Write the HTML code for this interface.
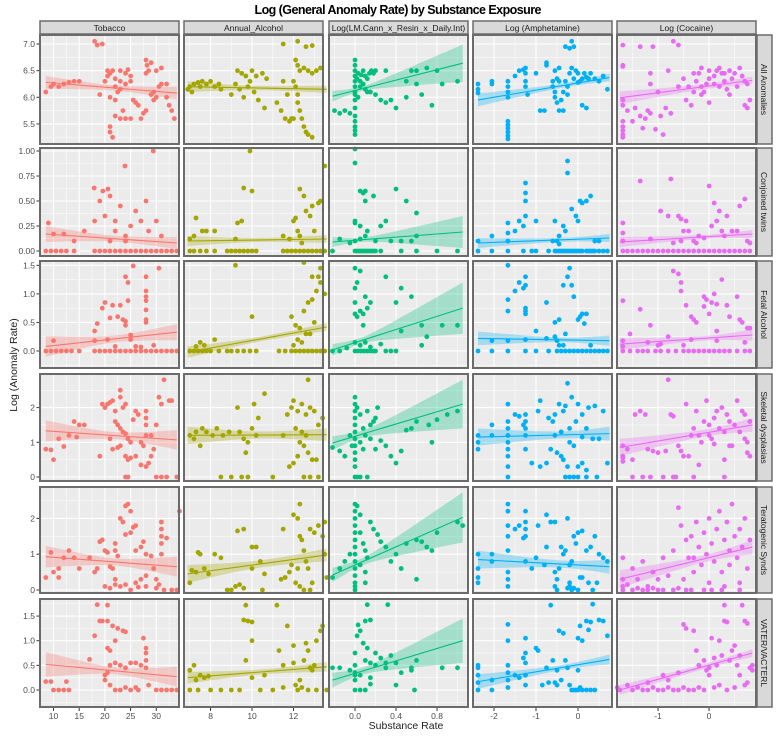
<!DOCTYPE html>
<html><head><meta charset="utf-8">
<style>
html,body{margin:0;padding:0;background:#fff;}
svg{display:block;font-family:"Liberation Sans",Arial,sans-serif;}
</style></head>
<body>
<svg id="chart" width="780" height="737" viewBox="0 0 780 737" xmlns="http://www.w3.org/2000/svg">
<text x="398" y="14" text-anchor="middle" font-size="12.5" font-weight="bold" fill="#000" textLength="287">Log (General Anomaly Rate) by Substance Exposure</text>
<text x="406" y="729" text-anchor="middle" font-size="10.5" fill="#222">Substance Rate</text>
<text transform="translate(17,365) rotate(-90)" text-anchor="middle" font-size="10.5" fill="#222">Log (Anomaly Rate)</text>
</svg>
<script>
// ---------- data ----------
const colNames = ["Tobacco","Annual_Alcohol","Log(LM.Cann_x_Resin_x_Daily.Int)","Log (Amphetamine)","Log (Cocaine)"];
const rowNames = ["All Anomalies","Conjoined twins","Fetal Alcohol","Skeletal dysplasias","Teratogenic Synds","VATER/VACTERL"];
const seriesColors = ["#F8766D","#A3A500","#00BF7D","#00B0F6","#E76BF3"];
const xTicks = [[10,15,20,25,30],[8,10,12],[0,0.4,0.8],[-2,-1,0],[-1,0]];
const xTickLabels = [["10","15","20","25","30"],["8","10","12"],["0.0","0.4","0.8"],["-2","-1","0"],["-1","0"]];
const yTicks = [[5.5,6,6.5,7],[0,0.25,0.5,0.75,1],[0,0.5,1,1.5],[0,1,2],[0,1,2],[0,0.5,1,1.5]];
const yTickLabels = [["5.5","6.0","6.5","7.0"],["0.00","0.25","0.50","0.75","1.00"],["0.0","0.5","1.0","1.5"],["0","1","2"],["0","1","2"],["0.0","0.5","1.0","1.5"]];
const xDomains = [[7.37,34.42],[6.72,13.42],[-0.254,1.102],[-2.5,0.81],[-1.804,0.92]];
const yDomains = [[5.124,7.169],[-0.05,1.03],[-0.298,1.576],[-0.115,2.968],[-0.084,2.877],[-0.345,1.846]];
const lineXRange = [[8.5,34],[6.9,13.6],[-0.22,1.05],[-2.38,0.75],[-1.75,0.85]];
const fitStart = [[6.28,6.2,6.02,5.95,5.99],[0.17,0.1,0.09,0.08,0.09],[0.08,-0.02,0.02,0.22,0.12],[1.33,1.2,0.98,1.15,0.85],[0.93,0.45,0.42,0.85,0.3],[0.52,0.25,0.2,0.17,0]];
const fitEnd = [[6.08,6.15,6.64,6.37,6.32],[0.08,0.12,0.19,0.13,0.17],[0.33,0.42,0.75,0.18,0.28],[1.07,1.22,2.1,1.25,1.5],[0.65,0.98,2.03,0.65,1.2],[0.27,0.47,1.0,0.62,0.75]];
const bandLeft = [[0.12,0.1,0.1,0.12,0.12],[0.08,0.05,0.05,0.05,0.05],[0.18,0.1,0.1,0.12,0.1],[0.3,0.25,0.2,0.25,0.25],[0.3,0.25,0.2,0.25,0.25],[0.25,0.12,0.15,0.15,0.1]];
const bandMid = [[0.05,0.04,0.04,0.04,0.05],[0.03,0.02,0.02,0.02,0.02],[0.06,0.04,0.05,0.04,0.04],[0.1,0.1,0.1,0.1,0.1],[0.1,0.1,0.1,0.1,0.1],[0.07,0.05,0.07,0.05,0.05]];
const bandRight = [[0.12,0.07,0.35,0.07,0.07],[0.06,0.04,0.16,0.04,0.04],[0.14,0.07,0.45,0.09,0.1],[0.28,0.18,0.7,0.2,0.2],[0.28,0.18,0.7,0.2,0.2],[0.2,0.1,0.45,0.1,0.08]];
const bandCenter = [22,10.5,0.05,-0.3,0];

const p_r1_c1 = [[8.5,6.1],[9.5,6.2],[10,6.25],[11,6.2],[12,6.25],[13,6.28],[14,6.3],[15,6.3],[18,7.05],[18.5,6.98],[19.5,7.0],[19,6.05],[20,6.3],[20.5,6.4],[21,6.45],[21.5,6.5],[22,6.35],[22,6.2],[22.5,6.1],[23,6.3],[23,6.5],[24,6.45],[24,6.25],[24.5,6.52],[25,6.4],[25,6.3],[21,6.0],[22,5.95],[21,5.45],[21,5.35],[21.5,5.25],[22,5.65],[23,5.6],[23.5,5.75],[24,5.6],[25,5.6],[26,5.9],[26.5,5.85],[27,5.6],[27.5,5.7],[28,5.75],[25.5,5.95],[28,6.7],[28.2,6.6],[28.5,6.5],[28,6.45],[29,6.65],[30,6.5],[29,6.05],[29.5,5.95],[29.5,6.1],[30,6.0],[30.5,6.2],[31,6.55],[31,6.25],[32,6.0],[32.5,5.85],[33,5.75],[33.5,5.6],[32,6.25],[20.5,6.5],[23,6.15]];
const p_r2_c1 = [[8.5,0],[9.5,0],[10.5,0],[11.5,0],[12.5,0],[14,0],[18,0],[19,0],[20,0],[21,0],[22,0],[23,0],[24,0],[25,0],[26,0],[27,0],[28,0],[29,0],[30,0],[31,0],[32,0],[33,0],[34,0],[10,0.17],[12,0.17],[14,0.1],[16,0.2],[18,0.3],[19,0.5],[20,0.35],[21,0.55],[22,0.3],[22,0.2],[23,0.45],[24,0.15],[25,0.25],[26,0.4],[27,0.3],[28,0.5],[28.5,0.2],[30,0.3],[31,0.15],[21,0.1],[24,0.1],[29.4,1.0],[23.9,0.85],[17.9,0.63],[19.6,0.6],[20.6,0.62],[9,0.28]];
const p_r3_c1 = [[8.5,0],[9.5,0],[10.5,0],[11.5,0],[12.5,0],[13.5,0],[15,0],[18,0],[19,0],[20,0],[21,0],[22,0],[23,0],[24,0],[25,0],[26,0],[27,0],[28,0],[29,0],[30,0],[31,0],[32,0],[33,0],[34,0],[10,0.18],[18,0.35],[18.5,0.48],[19.5,0.75],[20,0.85],[21,0.58],[21.5,0.8],[22.5,0.6],[23,0.8],[23.5,0.55],[24,0.52],[24.5,0.88],[24,0.45],[24.5,1.2],[24,1.3],[25.5,1.49],[25,0.28],[25,0.2],[28,1.3],[28,1.05],[28,0.95],[28,0.88],[28,0.72],[28,0.55],[28,0.5],[30.5,1.45],[20.5,0.2],[22,0.08],[26,0.08],[27,0.07],[29.5,0.1],[18,0.18]];
const p_r4_c1 = [[8.5,0.8],[9.5,0.78],[10,0.5],[11,1.1],[12,0.88],[13,1.2],[14,1.6],[15,1.5],[16,1.5],[14.5,1.15],[19,0.6],[19.5,2.1],[20,2.0],[20.5,2.1],[21,2.15],[21.5,2.2],[22,1.9],[23,2.5],[23,2.3],[23.5,2.0],[24,2.1],[22,1.6],[22.5,1.5],[23,1.4],[23.5,1.3],[24,1.25],[24.5,1.1],[25,1.0],[21,1.1],[21.5,0.8],[22.5,0.85],[23,0.9],[24,0.6],[24.5,0.5],[25,0.55],[26,0.6],[26,1.9],[26.5,1.8],[25.5,1.65],[27,1.0],[27.5,0.9],[28,0.3],[28.5,0.4],[29,0.6],[29.5,0.8],[24,0],[24.5,0],[28,1.9],[28,1.7],[28,1.5],[28,1.2],[30.5,2.3],[30,1.5],[31.5,2.8],[31,2.1],[32.5,2.2],[33,2.2],[30,0],[31,0],[32,0],[34,0],[27,0.35],[29,1.2]];
const p_r5_c1 = [[8.5,0.35],[9.5,1.05],[10,0.5],[11,0.6],[11,0.35],[12,0.9],[13,1.1],[14,0.9],[15,0.6],[17,0.9],[18,0.5],[18.5,0.6],[19,1.35],[19.5,1.4],[20,1.1],[20.5,1.05],[21,0.65],[21.5,0.6],[22,1.3],[22,1.1],[22.5,0.95],[23,2.0],[23.5,1.9],[24,2.35],[24.5,2.4],[25,2.2],[25.5,1.75],[26,1.8],[24,1.55],[25,1.6],[26,1.1],[27,1.2],[27.5,1.35],[28,1.0],[29,0.95],[29.5,0.6],[30,0.3],[28,0.4],[26,0.2],[24,0.15],[23,0.1],[22,0.15],[21,0.05],[20,0.1],[25,0],[26.5,0.08],[28,0.1],[30.5,0.15],[31,1.9],[31,1.7],[31,1.5],[31,1.3],[31,1.0],[32,1.45],[30,0.05],[31.5,0],[33,0],[34,0],[34.5,2.2],[27,0.3],[22,0.3]];
const p_r6_c1 = [[8.5,0.17],[9.5,0.17],[10,0],[11,0],[12,0],[12.5,0.17],[13,0],[17,0.62],[18,1.1],[18.5,1.73],[19,1.4],[19.5,1.4],[20.5,1.72],[20.5,1.4],[21.5,1.3],[22.5,1.25],[23.5,1.2],[24,1.18],[22,1.0],[21,0.8],[20.5,0.85],[21,0.5],[22,0.55],[23,0.5],[24,0.45],[25,0.55],[26,0.55],[27,0.5],[28,0.45],[28,0.6],[28,0.75],[28,0.85],[27.5,1.05],[20,0.3],[20,0.2],[21,0.1],[22,0],[23,0],[24,0.05],[25,0],[26,0.05],[26.5,0],[28.5,0.1],[30,0],[31,0],[32,0],[33,0],[34,0],[20.5,0.35]];

const p_r1_c2 = [[6.9,6.15],[7.0,6.2],[7.2,6.25],[7.4,6.28],[7.6,6.3],[7.8,6.25],[8.0,6.3],[8.2,6.2],[8.4,6.25],[7.1,6.1],[7.5,6.2],[8.5,6.15],[9.0,6.05],[9.3,6.5],[9.5,6.45],[9.7,6.4],[10,6.5],[10.2,6.4],[10.5,6.45],[9.8,6.2],[10.1,6.1],[9.6,6.0],[10.3,5.95],[9.2,6.25],[9.4,6.15],[10.6,5.8],[11.2,5.9],[11.4,5.75],[11.6,5.6],[11.8,5.55],[12,5.6],[11.5,6.3],[11.7,6.05],[12.1,6.7],[12.2,6.6],[12.3,6.5],[12.5,6.55],[12.7,6.5],[12.9,6.45],[13.1,6.5],[13.3,6.55],[12.0,6.3],[12.1,6.2],[12.2,6.05],[12.2,5.9],[12.3,5.75],[12.4,5.6],[12.5,5.45],[12.6,5.35],[12.7,5.3],[12.9,5.25],[11.5,7.0],[12.2,7.05],[12.6,6.95],[12.9,6.97],[10.7,6.35],[9.9,6.3],[11.9,5.6]];
const p_r2_c2 = [[7.0,0],[7.2,0],[7.5,0],[7.8,0],[8.2,0],[8.8,0],[9.0,0],[9.2,0],[9.4,0],[9.6,0],[9.8,0],[10,0],[10.2,0],[11.5,0],[11.7,0],[11.9,0],[12.1,0],[12.3,0],[12.5,0],[12.7,0],[12.9,0],[13.1,0],[13.3,0],[13.5,0],[7.0,0.12],[7.2,0.15],[7.3,0.33],[7.6,0.2],[7.8,0.2],[8.2,0.2],[9.3,0.28],[9.5,0.3],[9.2,0.12],[9.9,1.0],[9.6,0.63],[10,0.6],[11.8,0.12],[12,0.3],[12.1,0.33],[12.2,0.2],[12.3,0.15],[12.5,0.55],[12.6,0.4],[12.8,0.35],[12.9,0.45],[13,0.2],[13.2,0.48],[13.3,0.5],[13.5,0.85],[12.3,0.62],[11.5,0.15],[12.4,0.08]];
const p_r3_c2 = [[7.0,0],[7.2,0],[7.4,0],[7.6,0],[7.8,0],[8.0,0],[8.4,0],[8.8,0],[9.0,0],[9.3,0],[9.6,0],[9.9,0],[10.2,0],[11.3,0],[11.6,0],[11.9,0],[12.1,0],[12.3,0],[12.5,0],[12.7,0],[12.9,0],[13.1,0],[13.3,0],[13.5,0],[7.3,0.08],[7.5,0.15],[7.7,0.1],[8.2,0.2],[9.2,1.5],[10,0.6],[11.9,0.6],[12.1,0.45],[12.3,0.4],[12.5,0.7],[12.7,0.85],[12.9,0.9],[13.1,1.05],[13.3,1.2],[13.5,1.0],[12.9,1.3],[13.2,1.3],[13.3,1.45],[12.5,1.55],[12.6,0.3],[12.2,0.2],[12.4,0.15],[12.0,0.1],[13.0,0.5],[12.8,0.3]];
const p_r4_c2 = [[7.0,1.2],[7.2,1.1],[7.3,1.3],[7.5,0.9],[7.6,1.4],[7.8,1.3],[8.1,1.2],[8.3,1.4],[8.6,1.2],[8.9,1.3],[9.3,2.0],[9.6,1.1],[9.8,1.0],[10.1,2.1],[10.3,1.7],[10.6,2.4],[10.2,1.2],[10.0,1.4],[9.4,1.3],[9.7,0.7],[11.5,1.2],[11.7,1.8],[11.9,2.0],[12.0,2.2],[12.2,1.9],[12.4,2.1],[12.6,1.8],[12.8,2.0],[13.0,1.9],[13.2,1.5],[13.4,1.7],[12.1,1.4],[12.3,1.0],[12.5,0.9],[12.7,0.7],[12.9,0.5],[12.2,0.6],[12.0,0.4],[11.8,0.3],[12.4,1.3],[12.6,1.2],[13.1,0.5],[12.7,2.8],[8.5,0],[9.0,0],[9.5,0],[9.8,0],[11.0,0],[12.5,0],[12.8,0],[13.2,0]];
const p_r5_c2 = [[7.0,0.2],[7.1,0.55],[7.3,0.5],[7.4,1.05],[7.5,1.0],[7.7,0.6],[7.9,0.45],[8.2,1.0],[8.5,0.9],[9.0,0],[9.2,0.1],[9.4,0.15],[9.6,0.05],[9.3,1.65],[9.6,1.7],[10,1.2],[10.2,1.2],[10.4,0.8],[10.6,0.45],[10,0.6],[11.4,0.3],[11.6,0.35],[11.8,0.5],[11.9,0.7],[12.0,2.1],[12.2,2.0],[12.3,1.5],[12.4,1.4],[12.5,1.1],[12.6,0.8],[12.8,1.7],[13.0,1.6],[13.2,1.8],[13.4,1.5],[13.5,1.9],[12.3,2.4],[11.5,1.7],[12.7,0.6],[12.9,0.2],[12.1,0.2],[12.3,0.1],[12.5,0],[12.8,0],[10.5,0],[8.8,0],[13.5,1.0],[13.6,0.35],[12.2,0.6]];
const p_r6_c2 = [[7.0,0.4],[7.2,0.5],[7.3,0.2],[7.5,0.3],[7.7,0.25],[7.9,0.28],[7.0,0],[7.4,0],[8.0,0],[8.5,0],[9.0,0],[9.4,0],[9.7,0.6],[9.6,1.42],[9.8,1.4],[10,1.38],[9.7,1.72],[10,1.0],[10,0.25],[10.6,0.3],[10.4,0],[11.2,1.72],[11.3,0.8],[11.5,0.5],[11.7,1.3],[12,0.9],[12,0.55],[12.1,0.1],[12.2,0],[12.3,0.2],[12.5,0.6],[12.6,0.95],[12.7,0.8],[12.8,0.45],[12.9,0.4],[13,0.5],[13.1,1.0],[13.3,1.2],[13.4,1.3],[12.4,0.05],[12.7,0],[13.1,0],[13.6,0],[11.0,0],[11.5,0.05]];

const p_r1_c3 = [[0,5.3],[0,5.38],[0,5.45],[0,5.55],[0,5.65],[0,5.8],[0,5.95],[0,6.05],[0,6.1],[0,6.2],[0,6.3],[0,6.4],[0,6.5],[0,6.6],[0,6.7],[0.02,6.35],[0.03,6.45],[0.05,6.3],[0.06,6.42],[0.08,6.5],[0.1,6.4],[0.12,6.35],[0.14,6.45],[0.16,6.5],[0.18,6.45],[0.2,6.5],[0.05,6.2],[0.08,6.25],[0.1,6.15],[0.12,6.1],[0.15,6.1],[0.2,6.05],[0.03,6.0],[-0.2,5.75],[-0.15,5.7],[-0.05,5.7],[0.25,5.95],[0.3,5.9],[0.35,5.95],[0.4,5.8],[0.5,6.3],[0.55,6.5],[0.6,6.5],[0.7,6.55],[0.8,6.5],[0.65,6.05],[0.6,6.25],[0.3,6.5],[0.5,6.0],[1.0,6.3],[0.85,6.25],[0.75,5.85],[-0.1,5.75]];
const p_r2_c3 = [[0,0],[0.02,0],[0.04,0],[0.06,0],[0.08,0],[0.1,0],[0.12,0],[0.14,0],[0.16,0],[0.18,0],[0.2,0],[-0.22,0],[0.25,0],[0.45,0],[0.6,0],[0.8,0],[1.0,0],[0,1.02],[0,0.88],[0.05,0.6],[0.1,0.6],[0.08,0.58],[0.1,0.5],[0.18,0.55],[0.4,0.62],[0.5,0.5],[0.6,0.38],[0.25,0.25],[0.3,0.3],[0.0,0.3],[0.0,0.28],[0.05,0.25],[0.12,0.2],[0.1,0.15],[0.05,0.12],[0.0,0.1],[-0.15,0.12],[-0.05,0.08],[0.35,0.1],[0.2,0.1],[0.45,0.1],[0.55,0.1],[0.6,0.15]];
const p_r3_c3 = [[0,0],[0.03,0],[0.06,0],[0.09,0],[0.12,0],[0.15,0],[0.18,0],[0.2,0],[-0.22,0],[-0.15,0],[0.3,0],[0.35,0],[0.4,0],[0.0,1.45],[0.05,1.4],[0.02,1.2],[0.0,1.1],[0.05,0.7],[0.0,0.85],[0.0,0.65],[0.02,0.6],[0.08,0.65],[0.1,0.95],[0.15,0.85],[0.12,0.75],[0.08,0.45],[0.0,0.15],[0.1,0.15],[0.05,0.1],[0.3,1.3],[0.45,1.1],[0.4,0.85],[0.55,0.95],[0.45,0.35],[0.65,0.45],[0.7,0.25],[0.65,0.1],[0.15,0.07],[-0.08,0.05],[1.0,0.45],[0.85,0.45],[0.25,0.12]];
const p_r4_c3 = [[0,0],[0.02,0],[0.05,0],[0.12,0],[0,0.3],[0,0.5],[0,0.7],[0,0.9],[0,1.1],[0,1.3],[0,1.5],[0,1.7],[0,1.9],[0,2.1],[0,2.3],[0.02,2.0],[0.05,1.8],[0.08,1.4],[0.1,1.2],[0.05,1.0],[0.08,0.8],[-0.05,1.2],[-0.03,0.9],[-0.1,0.6],[0.15,1.5],[0.18,1.6],[0.2,1.7],[0.22,2.0],[0.12,1.9],[0.15,1.1],[0.25,1.05],[0.3,0.9],[0.2,0.8],[0.35,0.6],[0.4,0.4],[0.45,0.75],[0.5,1.35],[0.55,1.4],[0.6,1.6],[0.72,1.5],[0.75,1.0],[0.8,1.65],[1.0,1.9],[0.9,1.8],[-0.22,0.85],[-0.15,0.75]];
const p_r5_c3 = [[0,0],[0,0.1],[0,0.2],[0,0.4],[0,0.6],[0,0.8],[0,1.0],[0,1.2],[0,1.4],[0,1.6],[0,1.8],[0,2.0],[0,2.2],[0,2.4],[0.02,2.35],[0.05,2.1],[0.05,1.6],[0.08,1.3],[0.1,1.1],[0.12,0.9],[0.05,0.7],[0.1,0.5],[-0.05,1.0],[-0.1,0.8],[-0.22,0.35],[-0.15,0.6],[0.15,1.9],[0.18,1.7],[0.22,1.55],[0.25,1.35],[0.3,1.2],[0.35,0.8],[0.4,1.0],[0.45,0.6],[0.5,1.3],[0.6,1.4],[0.65,1.35],[0.7,1.2],[0.8,1.6],[0.6,0.3],[1.0,1.9],[1.05,1.8],[0.75,1.1],[0.1,0.2]];
const p_r6_c3 = [[-0.22,0.45],[-0.15,0.45],[-0.05,0.4],[0,0.5],[0,0.35],[0,0.3],[0,0.2],[0,0],[0.05,0],[0.1,0],[0.15,0.12],[0.0,0.75],[0.02,1.1],[0.05,1.2],[0.03,1.32],[0.1,1.4],[0.15,1.42],[0.12,1.73],[0.32,1.73],[0.08,0.95],[0.12,0.85],[0.2,0.75],[0.1,0.6],[0.15,0.55],[0.2,0.5],[0.25,0.65],[0.3,0.55],[0.35,0.7],[0.4,0.55],[0.3,0.45],[0.45,0.35],[0.55,0.45],[0.6,0.6],[0.4,0.1],[0.55,0.4],[0.58,0],[1.0,0.45],[0.85,0.45],[0.05,0.3],[0.15,0.25]];

const p_r1_c4 = [[-2.38,6.25],[-2.38,6.15],[-2.38,6.08],[-2.05,6.3],[-2.05,6.25],[-1.67,6.3],[-1.67,6.2],[-1.67,6.1],[-1.67,6.0],[-1.67,5.55],[-1.67,5.48],[-1.67,5.42],[-1.67,5.35],[-1.67,5.28],[-1.67,5.22],[-1.5,6.4],[-1.4,6.5],[-1.3,6.52],[-1.25,6.55],[-1.25,6.45],[-1.25,6.3],[-1.25,6.2],[-1.2,6.05],[-1.0,6.45],[-0.9,5.75],[-0.8,5.75],[-0.75,6.6],[-0.75,6.65],[-0.6,6.2],[-0.55,6.1],[-0.55,6.0],[-0.5,5.9],[-0.45,5.75],[-0.4,5.95],[-0.35,5.75],[-0.3,6.3],[-0.25,6.2],[-0.2,6.45],[-0.15,6.55],[-0.1,6.35],[-0.3,6.95],[-0.2,6.92],[-0.15,7.05],[-0.1,6.95],[-0.05,6.5],[0,6.45],[0.05,6.3],[0.1,6.35],[0.15,6.45],[0.2,6.38],[0.25,6.35],[0.3,6.45],[0.4,6.35],[0.5,6.3],[0.6,6.4],[0.7,6.15],[-0.5,6.35],[-0.45,6.3],[-0.6,6.3],[-0.35,6.1],[-0.25,6.05],[0.1,5.85],[0.2,5.8],[-0.55,6.5],[-0.45,6.55],[0.0,6.28]];
const p_r2_c4 = [[-2.38,0],[-2.05,0],[-1.67,0],[-1.3,0],[-1.1,0],[-1.0,0],[-0.7,0],[-0.55,0],[-0.5,0],[-0.45,0],[-0.4,0],[-0.35,0],[-0.3,0],[-0.25,0],[-0.2,0],[-0.15,0],[-0.1,0],[-0.05,0],[0,0],[0.05,0],[0.1,0],[0.2,0],[0.25,0],[0.3,0],[0.35,0],[0.4,0],[0.5,0],[0.6,0],[0.7,0],[-2.38,0.1],[-2.05,0.15],[-1.67,0.1],[-1.67,0.18],[-1.67,0.28],[-1.5,0.2],[-1.4,0.3],[-1.3,0.25],[-1.25,0.35],[-1.25,0.5],[-1.25,0.58],[-1.25,0.68],[-1.0,0.3],[-0.6,0.1],[-0.55,0.3],[-0.45,0.15],[-0.35,0.25],[-0.3,0.2],[-0.25,0.9],[-0.25,0.78],[-0.15,0.42],[-0.05,0.35],[0.0,0.3],[0.05,0.5],[0.1,0.48],[0.2,0.5],[0.3,0.55],[-0.5,0.1],[0.4,0.1],[0.5,0.1],[-0.45,0.07]];
const p_r3_c4 = [[-2.38,0],[-2.05,0],[-1.67,0],[-1.25,0],[-1.0,0],[-0.7,0],[-0.5,0],[-0.4,0],[-0.3,0],[-0.2,0],[-0.1,0],[0,0],[0.1,0],[0.2,0],[0.3,0],[0.4,0],[0.5,0],[0.6,0],[0.7,0],[-1.67,1.5],[-1.5,1.05],[-1.3,1.1],[-1.4,1.2],[-1.25,1.15],[-1.25,1.3],[-1.67,0.7],[-1.67,0.9],[-1.25,0.65],[-1.25,0.7],[-1.25,0.75],[-1.0,0.35],[-0.75,0.85],[-0.55,0.5],[-0.45,0.55],[-0.35,1.15],[-0.25,1.3],[-0.2,1.45],[-0.15,1.15],[-0.1,0.95],[0.0,0.55],[0.05,0.6],[0.1,0.65],[0.2,0.65],[0.15,0.48],[-0.3,0.3],[-0.5,0.18],[-0.45,0.1],[0.3,0.1],[-2.05,0.18],[-1.67,0.18],[-1.25,0.2],[-0.75,0.22],[-0.55,0.25],[-0.35,0.1]];
const p_r4_c4 = [[-2.38,1.2],[-2.38,0.8],[-2.38,1.0],[-2.05,1.5],[-2.05,1.2],[-1.67,2.1],[-1.67,1.6],[-1.67,1.4],[-1.67,1.2],[-1.67,1.0],[-1.67,0.8],[-1.67,0.6],[-1.67,0.3],[-1.67,0],[-1.5,1.8],[-1.4,1.75],[-1.3,1.5],[-1.25,1.8],[-1.25,1.6],[-1.25,1.4],[-1.25,1.2],[-1.25,0.8],[-1.1,0.4],[-0.95,1.9],[-0.9,2.2],[-0.9,0.3],[-0.75,0.4],[-0.7,1.7],[-0.65,0.8],[-0.6,1.6],[-0.55,1.8],[-0.5,0.7],[-0.45,2.1],[-0.4,1.3],[-0.4,0.6],[-0.35,1.9],[-0.3,2.05],[-0.25,2.7],[-0.2,1.4],[-0.15,2.3],[-0.1,0.9],[-0.05,1.6],[0,2.1],[0.1,1.8],[0.2,1.4],[0.25,2.0],[0.35,1.1],[0.4,2.05],[0.5,1.1],[0.6,1.9],[0.7,0.4],[-0.35,0.5],[-0.25,0.3],[0,0.3],[0.1,0.4],[0.2,0.2],[-0.3,0],[-0.2,0],[-0.1,0],[0.0,0],[0.2,0],[0.45,0],[-0.55,1.2],[-0.2,1.0],[0.1,1.15]];
const p_r5_c4 = [[-2.38,0.2],[-2.38,0.35],[-2.38,0.6],[-2.38,1.0],[-2.05,0.8],[-2.05,1.0],[-1.67,2.4],[-1.67,2.2],[-1.67,1.8],[-1.67,1.5],[-1.67,1.1],[-1.67,0.5],[-1.67,0.3],[-1.67,0.1],[-1.5,1.7],[-1.4,1.8],[-1.3,1.45],[-1.25,2.2],[-1.25,1.9],[-1.25,1.7],[-1.25,1.5],[-1.25,0.8],[-1.1,0.6],[-1.0,0.9],[-0.95,1.8],[-0.8,0.7],[-0.75,1.2],[-0.75,2.1],[-0.65,1.9],[-0.55,1.9],[-0.55,0.5],[-0.5,0.3],[-0.45,0.6],[-0.4,1.2],[-0.35,1.0],[-0.3,1.1],[-0.25,2.0],[-0.2,0.2],[-0.2,0.7],[-0.15,0.8],[-0.1,1.5],[-0.05,1.3],[0,1.6],[0.05,0.35],[0.1,1.65],[0.2,1.1],[0.3,1.2],[0.4,1.5],[0.5,1.0],[0.6,0.9],[0.7,0.8],[-0.25,0.05],[-0.2,0.1],[-0.15,0],[-0.1,0.05],[0,0],[0.1,0.35],[0.25,0.2],[0.35,0],[0.45,0.2],[-0.5,0],[-0.55,0.1]];
const p_r6_c4 = [[-2.38,0.5],[-2.38,0.45],[-2.38,0.3],[-2.38,0.15],[-2.38,0],[-2.05,0.2],[-2.05,0],[-1.67,1.33],[-1.67,1.0],[-1.67,0.5],[-1.67,0.35],[-1.67,0.2],[-1.67,0.05],[-1.5,0.3],[-1.4,0.25],[-1.3,0.65],[-1.25,0.55],[-1.25,1.05],[-1.25,0.75],[-1.25,0.3],[-1.25,0.1],[-1.0,0.85],[-0.95,0.8],[-0.85,0.1],[-0.75,0.45],[-0.7,0.15],[-0.65,1.72],[-0.6,0.6],[-0.55,0.15],[-0.5,0.1],[-0.45,1.2],[-0.4,0.2],[-0.35,1.15],[-0.3,0.6],[-0.25,0.45],[-0.2,0.1],[-0.15,0],[-0.1,0],[-0.05,0],[0,0],[0.05,0.05],[0.1,0],[0.2,0],[0.3,0],[0.4,0],[0,1.05],[0.05,1.3],[0.1,1.0],[0.2,1.4],[0.25,1.22],[0.3,1.38],[0.35,1.74],[0.5,1.42],[0.6,1.4],[0.7,1.1],[-0.5,0.4],[0.0,0.4]];

const p_r1_c5 = [[-1.69,6.98],[-1.69,6.6],[-1.69,6.58],[-1.69,5.95],[-1.69,5.85],[-1.69,5.55],[-1.69,5.45],[-1.69,5.38],[-1.69,5.3],[-1.69,5.25],[-1.6,5.75],[-1.5,5.55],[-1.45,5.8],[-1.35,6.95],[-1.35,5.65],[-1.3,5.42],[-1.25,5.6],[-1.2,5.75],[-1.15,6.45],[-1.15,6.25],[-1.15,5.7],[-1.1,6.95],[-1.05,5.4],[-1.0,6.1],[-0.95,5.65],[-0.9,5.3],[-0.85,5.8],[-0.8,6.5],[-0.75,5.7],[-0.7,7.05],[-0.6,6.98],[-0.5,6.35],[-0.45,5.95],[-0.4,6.2],[-0.3,6.1],[-0.25,6.3],[-0.2,6.45],[-0.15,6.55],[-0.15,6.2],[-0.1,6.1],[-0.05,6.25],[0,5.9],[0,6.35],[0.1,6.4],[0.1,6.25],[0.15,6.5],[0.2,6.55],[0.25,6.45],[0.3,6.3],[0.35,6.15],[0.4,6.05],[0.45,6.35],[0.5,6.45],[0.6,6.55],[0.65,6.4],[0.7,6.3],[0.75,6.25],[0.8,5.95],[0.75,5.8],[0.7,5.85],[0.2,6.2],[0.3,6.45],[-0.3,6.45],[-0.35,5.85],[-0.15,6.05],[0.0,6.5],[0.4,6.5],[0.55,6.2],[-0.6,6.2]];
const p_r2_c5 = [[-1.69,0],[-1.6,0],[-1.5,0],[-1.4,0],[-1.3,0],[-1.2,0],[-1.1,0],[-1.0,0],[-0.9,0],[-0.8,0],[-0.7,0],[-0.6,0],[-0.5,0],[-0.4,0],[-0.3,0],[-0.2,0],[-0.1,0],[0,0],[0.1,0],[0.2,0],[0.3,0],[0.4,0],[0.5,0],[0.6,0],[0.7,0],[0.8,0],[-1.69,0.28],[-1.69,0.1],[-1.69,0.18],[-1.35,0.7],[-1.15,0.12],[-0.95,0.4],[-0.8,0.35],[-0.75,0.72],[-0.6,0.35],[-0.55,0.32],[-0.5,0.2],[-0.45,0.3],[-0.4,0.2],[-0.3,0.1],[-0.25,0.08],[-0.2,0.15],[0.0,0.65],[-0.1,0.13],[0.05,0.25],[0.1,0.48],[0.15,0.3],[0.2,0.4],[0.25,0.2],[0.3,0.15],[0.35,0.35],[0.45,0.2],[0.55,0.2],[0.6,0.45],[0.7,0.52],[0.75,0.1],[0.8,0.08],[-0.55,0.1],[-0.7,0.08]];
const p_r3_c5 = [[-1.69,0],[-1.55,0],[-1.4,0],[-1.3,0],[-1.2,0],[-1.05,0],[-0.95,0],[-0.8,0],[-0.65,0],[-0.5,0],[-0.4,0],[-0.3,0],[-0.2,0],[-0.1,0],[0,0],[0.1,0],[0.2,0],[0.3,0],[0.4,0],[0.55,0],[0.7,0],[0.8,0],[-1.69,0.88],[-1.69,0.18],[-1.69,0.08],[-1.55,0.3],[-1.35,0.73],[-1.15,0.45],[-0.95,0.12],[-0.8,0.25],[-0.7,1.4],[-0.6,1.35],[-0.55,1.2],[-0.55,1.05],[-0.45,0.8],[-0.35,0.6],[-0.3,0.55],[-0.25,0.5],[-0.1,0.95],[-0.1,0.78],[-0.05,0.9],[0.0,0.65],[0.05,0.85],[0.1,1.0],[0.15,0.82],[0.25,1.25],[0.35,0.8],[0.4,0.6],[0.55,0.95],[0.6,0.55],[0.65,0.5],[-0.35,0.2],[-0.5,0.1],[0.15,0.18],[0.15,0.35],[0.75,0.4],[0.8,0.4],[0.7,0.15],[-1.2,0.15],[-1.0,0.1]];
const p_r4_c5 = [[-1.69,0.6],[-1.69,0.9],[-1.69,0.55],[-1.69,0.45],[-1.6,0.8],[-1.5,0.5],[-1.5,0],[-1.3,0],[-1.15,0],[-0.9,0],[-0.7,0],[-0.65,0],[-0.3,0],[0.3,0],[-1.45,1.8],[-1.35,1.9],[-1.25,1.8],[-1.2,0.8],[-1.1,0.75],[-1.0,0.7],[-0.85,0.75],[-0.8,2.8],[-0.75,1.8],[-0.7,1.75],[-0.6,0.9],[-0.55,0.75],[-0.5,0.6],[-0.45,2.1],[-0.4,0.6],[-0.35,1.2],[-0.3,1.4],[-0.25,1.9],[-0.2,1.2],[-0.15,1.0],[-0.1,1.6],[-0.05,2.2],[0,1.5],[0.05,1.1],[0.1,1.7],[0.15,1.9],[0.2,1.4],[0.25,2.0],[0.3,1.3],[0.35,1.8],[0.4,1.6],[0.45,0.9],[0.5,1.5],[0.55,2.2],[0.6,1.3],[0.65,1.9],[0.7,1.1],[0.75,0.7],[0.8,1.6],[0.3,0.5],[0.1,0.95],[0.0,1.2],[0.4,0.9],[0.75,1.0],[0.8,0.6],[0.7,1.8],[-0.2,0.35]];
const p_r5_c5 = [[-1.69,0.1],[-1.69,0.3],[-1.69,0.9],[-1.69,0],[-1.5,0],[-1.4,0.05],[-1.3,0],[-1.2,0],[-1.1,0.05],[-1.0,0],[-0.9,0],[-0.7,0],[-0.6,0.05],[-0.45,0],[-0.35,0],[-0.1,0],[0.05,0],[0.25,0],[0.6,0],[-1.6,0.15],[-1.5,0.6],[-1.4,0.3],[-1.3,0.8],[-1.2,0.1],[-1.1,0.5],[-1.0,0.3],[-0.9,0.9],[-0.8,0.4],[-0.7,1.1],[-0.6,2.3],[-0.55,1.8],[-0.5,0.3],[-0.45,1.4],[-0.4,0.9],[-0.35,1.5],[-0.3,0.5],[-0.25,1.9],[-0.2,1.2],[-0.15,0.7],[-0.1,1.6],[-0.05,1.0],[0,2.0],[0.05,1.3],[0.1,0.8],[0.15,1.7],[0.2,2.2],[0.25,0.5],[0.3,1.4],[0.35,1.9],[0.4,1.1],[0.45,2.4],[0.5,1.5],[0.55,0.9],[0.6,1.7],[0.65,1.2],[0.7,2.0],[0.75,0.6],[0.8,1.4],[0.3,0.1],[0.6,0.2],[0.0,0.2],[0.4,0.7],[-0.3,0.9]];
const p_r6_c5 = [[-1.8,0.05],[-1.75,0],[-1.6,0.1],[-1.5,0],[-1.4,0.05],[-1.3,0],[-1.2,0],[-1.1,0.05],[-1.0,0],[-0.9,0],[-0.8,0.05],[-0.7,0],[-0.6,0],[-0.5,0.05],[-0.4,0],[-0.3,0],[-0.2,0.05],[-0.1,0],[0.1,0.05],[0.2,0.1],[0.35,0],[0.5,0.05],[0.7,0.1],[-1.2,0.15],[-0.9,0.3],[-0.8,0.2],[-0.6,0.35],[-0.5,1.33],[-0.45,1.25],[-0.3,1.2],[-0.25,0.8],[-0.2,0.5],[-0.1,0.6],[-0.05,0.4],[0,0.45],[0.05,1.05],[0.1,0.65],[0.15,0.5],[0.2,1.0],[0.25,0.7],[0.3,1.4],[0.35,1.38],[0.4,0.6],[0.45,0.8],[0.5,0.9],[0.55,0.5],[0.6,0.7],[0.65,1.72],[0.7,1.4],[0.75,1.35],[0.8,0.45],[0.85,0.4],[0.85,0.5],[0.75,0.15],[0.6,0.3],[0.3,1.72],[0.0,0.3]];

const panelPoints = [
  [p_r1_c1,p_r1_c2,p_r1_c3,p_r1_c4,p_r1_c5],
  [p_r2_c1,p_r2_c2,p_r2_c3,p_r2_c4,p_r2_c5],
  [p_r3_c1,p_r3_c2,p_r3_c3,p_r3_c4,p_r3_c5],
  [p_r4_c1,p_r4_c2,p_r4_c3,p_r4_c4,p_r4_c5],
  [p_r5_c1,p_r5_c2,p_r5_c3,p_r5_c4,p_r5_c5],
  [p_r6_c1,p_r6_c2,p_r6_c3,p_r6_c4,p_r6_c5]
];

// ---------- layout ----------
const colLeft=[40,184,329,473,617], colW=139;
const rowTop=[35,148,261,374,487,599], rowBottom=[144,256,368,481,593,707];
const NS="http://www.w3.org/2000/svg";
const svg=document.getElementById('chart');
function mk(tag,attrs,parent){const e=document.createElementNS(NS,tag);for(const k in attrs)e.setAttribute(k,attrs[k]);(parent||svg).appendChild(e);return e;}
function xScale(c,v){const d=xDomains[c];return colLeft[c]+(v-d[0])/(d[1]-d[0])*colW;}
function yScale(r,v){const d=yDomains[r];return rowBottom[r]-(v-d[0])/(d[1]-d[0])*(rowBottom[r]-rowTop[r]);}
function hexA(h){return h;}

for(let r=0;r<6;r++){
  for(let c=0;c<5;c++){
    const g=mk('g',{});
    
    
    const x0=colLeft[c],y0=rowTop[r],h=rowBottom[r]-rowTop[r];
    const bg=mk('rect',{x:x0,y:y0,width:colW,height:h,fill:'#EBEBEB'},g);
    
    
    // minor + major gridlines
    const xt=xTicks[c], yt=yTicks[r];
    const xs=xt[1]-xt[0], ys=yt[1]-yt[0];
    const dX=xDomains[c], dY=yDomains[r];
    for(let v=xt[0]-xs*4; v<=dX[1]+xs; v+=xs/2){
      if(v<dX[0]||v>dX[1]) continue;
      const major=Math.abs(((v-xt[0])/xs)-Math.round((v-xt[0])/xs))<1e-6;
      const px=xScale(c,v);
      const gl=mk('line',{x1:px,x2:px,y1:y0,y2:y0+h,stroke:'#fff','stroke-width':major?1.1:0.5},g);
      
      
    }
    for(let v=yt[0]-ys*4; v<=dY[1]+ys; v+=ys/2){
      if(v<dY[0]||v>dY[1]) continue;
      const major=Math.abs(((v-yt[0])/ys)-Math.round((v-yt[0])/ys))<1e-6;
      const py=yScale(r,v);
      const gl=mk('line',{x1:x0,x2:x0+colW,y1:py,y2:py,stroke:'#fff','stroke-width':major?1.1:0.5},g);
      
      
    }
    // confidence band
    const xr=lineXRange[c], n=30, xc=bandCenter[c];
    const bl=bandLeft[r][c], bm=bandMid[r][c], br=bandRight[r][c];
    const up=[],lo=[];
    for(let i=0;i<=n;i++){
      const xv=xr[0]+(xr[1]-xr[0])*i/n;
      const yv=fitStart[r][c]+(fitEnd[r][c]-fitStart[r][c])*(xv-xr[0])/(xr[1]-xr[0]);
      let hw;
      if(xv<=xc){const t=(xc-xv)/(xc-xr[0]);hw=Math.sqrt(bm*bm+(bl*bl-bm*bm)*t*t);}
      else{const t=(xv-xc)/(xr[1]-xc);hw=Math.sqrt(bm*bm+(br*br-bm*bm)*t*t);}
      up.push(xScale(c,xv).toFixed(1)+','+yScale(r,yv+hw).toFixed(1));
      lo.unshift(xScale(c,xv).toFixed(1)+','+yScale(r,yv-hw).toFixed(1));
    }
    const band=mk('polygon',{points:up.concat(lo).join(' '),fill:seriesColors[c],'fill-opacity':0.3},g);
    
    
    // points
    panelPoints[r][c].forEach(p=>{
      const cx=xScale(c,p[0]), cy=yScale(r,p[1]);
      if(cy<y0-1||cy>y0+h+1) return;
      const pt=mk('circle',{cx:cx.toFixed(1),cy:cy.toFixed(1),r:2.4,fill:seriesColors[c]},g);
      
      
    });
    // fit line
    const fl=mk('line',{x1:xScale(c,xr[0]),y1:yScale(r,fitStart[r][c]),x2:xScale(c,xr[1]),y2:yScale(r,fitEnd[r][c]),stroke:seriesColors[c],'stroke-width':1.1},g);
    
    
    // border
    const bd=mk('rect',{x:x0,y:y0,width:colW,height:h,fill:'none',stroke:'#6b6b6b','stroke-width':2},g);
    
    
  }
}
// top strips
for(let c=0;c<5;c++){
  const s=mk('rect',{x:colLeft[c],y:21,width:colW,height:13,fill:'#D9D9D9',stroke:'#6b6b6b','stroke-width':1.5});
  
  
  const t=mk('text',{x:colLeft[c]+colW/2,y:31,'text-anchor':'middle','font-size':8.5,fill:'#1a1a1a'});
  t.textContent=colNames[c];
  
  
}
// right strips
for(let r=0;r<6;r++){
  const y0=rowTop[r],h=rowBottom[r]-rowTop[r];
  const s=mk('rect',{x:757,y:y0,width:15,height:h,fill:'#D9D9D9',stroke:'#6b6b6b','stroke-width':1.5});
  
  
  const t=mk('text',{transform:'translate(761,'+(y0+h/2)+') rotate(90)','text-anchor':'middle','font-size':8.5,fill:'#1a1a1a'});
  t.textContent=rowNames[r];
  
  
}
// y axis ticks
for(let r=0;r<6;r++){
  yTicks[r].forEach((v,i)=>{
    const py=yScale(r,v);
    const tk=mk('line',{x1:36.5,x2:39,y1:py,y2:py,stroke:'#333','stroke-width':1});
    
    
    const t=mk('text',{x:35,y:py+3,'text-anchor':'end','font-size':8.5,fill:'#4d4d4d'});
    t.textContent=yTickLabels[r][i];
    
    
  });
}
// x axis ticks
for(let c=0;c<5;c++){
  xTicks[c].forEach((v,i)=>{
    const px=xScale(c,v);
    const tk=mk('line',{x1:px,x2:px,y1:708,y2:711,stroke:'#333','stroke-width':1});
    
    
    const t=mk('text',{x:px,y:719,'text-anchor':'middle','font-size':8.5,fill:'#4d4d4d'});
    t.textContent=xTickLabels[c][i];
    
    
  });
}
</script>
</body></html>
